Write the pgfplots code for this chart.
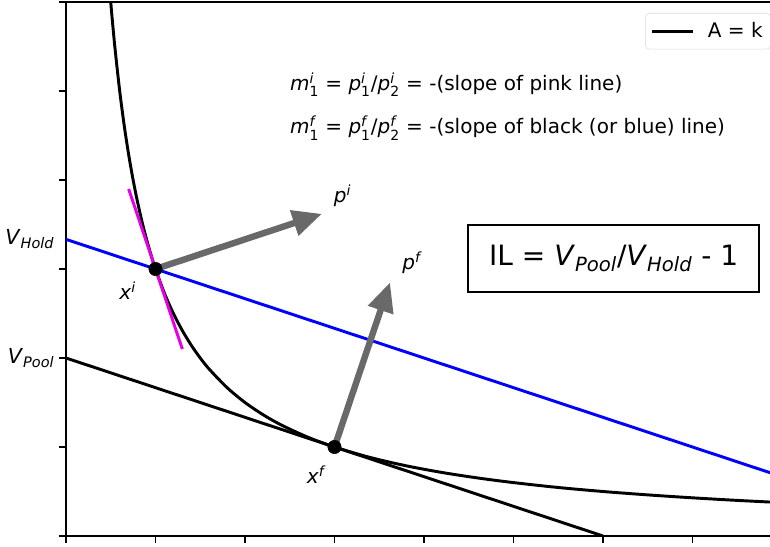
\documentclass[border=0pt]{standalone}
\usepackage{fontspec}
\setmainfont{DejaVu Sans}
\usepackage{amsmath}
\usepackage{pgfplots}
\pgfplotsset{compat=1.18}
\usetikzlibrary{arrows.meta}
\definecolor{pinkline}{RGB}{230,0,230}
\definecolor{arrowgray}{RGB}{105,105,105}
% V with italic subscript, and symbol with sub/superscript
\newcommand{\vv}[2]{\textit{#1}\textsubscript{\textit{#2}}}
\newcommand{\ms}[3]{$\textit{#1}^{\textit{#3}}_{\text{#2}}$}
\newcommand{\fs}{\fontsize{15}{18}\selectfont}

\begin{document}
\begin{tikzpicture}
\begin{axis}[
  scale only axis, width=537pt, height=400.5pt,
  xmin=0, xmax=8, ymin=0, ymax=6,
  axis line style={black, line width=1.1pt},
  tick align=outside, tick pos=left,
  major tick length=5.25pt,
  tick style={black, line width=0.8pt},
  xtick={0,...,8}, xticklabels={},
  ytick={0,...,6}, yticklabels={,,\vv{V}{Pool},,,,},
  extra y ticks={3.3333}, extra y tick labels={\vv{V}{Hold}},
  extra y tick style={tick style={draw=none}},
  ticklabel style={font=\fontsize{15.5}{18}\selectfont},
  clip mode=individual,
  legend style={at={(0.8087,0.9794)}, anchor=north west, draw=black!15,
    rounded corners=3pt, font=\fs, inner xsep=4pt, inner ysep=5pt},
  legend image code/.code={\draw[#1] (0pt,0pt) -- (30.75pt,0pt);},
]
% A = k  (x*y = 3)
\addplot[black, line width=2.2pt, smooth] coordinates {
  (0.45,6.667) (0.5,6) (0.52,5.769) (0.55,5.455) (0.6,5) (0.65,4.615)
  (0.7,4.286) (0.75,4) (0.8,3.75) (0.85,3.529) (0.9,3.333) (0.95,3.158)
  (1.0,3) (1.1,2.727) (1.2,2.5) (1.3,2.308) (1.4,2.143) (1.5,2)
  (1.6,1.875) (1.8,1.667) (2.0,1.5) (2.2,1.364) (2.4,1.25) (2.7,1.111)
  (3.0,1) (3.4,0.882) (3.8,0.789) (4.2,0.714) (4.6,0.652) (5.0,0.6)
  (5.5,0.545) (6.0,0.5) (6.5,0.462) (7.0,0.429) (7.5,0.4) (8.0,0.375)};
\addlegendentry{\hspace{8pt}A = k\hspace{6pt}}
\addplot[blue, line width=2.2pt, forget plot] coordinates {(0,3.3333) (8,0.6667)};
\addplot[black, line width=2.2pt, forget plot] coordinates {(0,2) (6,0)};
\addplot[pinkline, line width=2.2pt, forget plot] coordinates {(0.7,3.9) (1.3,2.1)};
% price vectors
\addplot[arrowgray, line width=4.8pt, -{Triangle[length=22pt,width=19pt]}, forget plot]
  coordinates {(1,3) (2.86,3.62)};
\addplot[arrowgray, line width=4.8pt, -{Triangle[length=22pt,width=19pt]}, forget plot]
  coordinates {(3,1) (3.62,2.85)};
\addplot[only marks, mark=*, mark size=5pt, black, forget plot] coordinates {(1,3) (3,1)};

\node[anchor=west, inner sep=0pt, font=\fs] at (axis cs:2.50,5.07)
  {\ms{m}{1}{i} = \ms{p}{1}{i}/\ms{p}{2}{i} = -(slope of pink line)};
\node[anchor=west, inner sep=0pt, font=\fs] at (axis cs:2.50,4.58)
  {\ms{m}{1}{f} = \ms{p}{1}{f}/\ms{p}{2}{f} = -(slope of black (or blue) line)};
\node[draw, line width=1.5pt, minimum width=218pt, minimum height=50pt,
  font=\fontsize{21}{25}\selectfont] at (axis cs:6.12,3.12)
  {IL = \vv{V}{Pool}/\vv{V}{Hold} - 1};
\node[font=\fs] at (axis cs:3.09,3.82) {\textit{p}\textsuperscript{\textit{i}}};
\node[font=\fs] at (axis cs:3.87,3.07) {\textit{p}\textsuperscript{\textit{f}}};
\node[font=\fs] at (axis cs:0.69,2.76) {\textit{x}\textsuperscript{\textit{i}}};
\node[font=\fs] at (axis cs:2.80,0.69) {\textit{x}\textsuperscript{\textit{f}}};
\end{axis}
\pgfresetboundingbox
\path[use as bounding box] (-49.5pt,-7.5pt) rectangle (528pt,402pt);
\end{tikzpicture}
\end{document}
